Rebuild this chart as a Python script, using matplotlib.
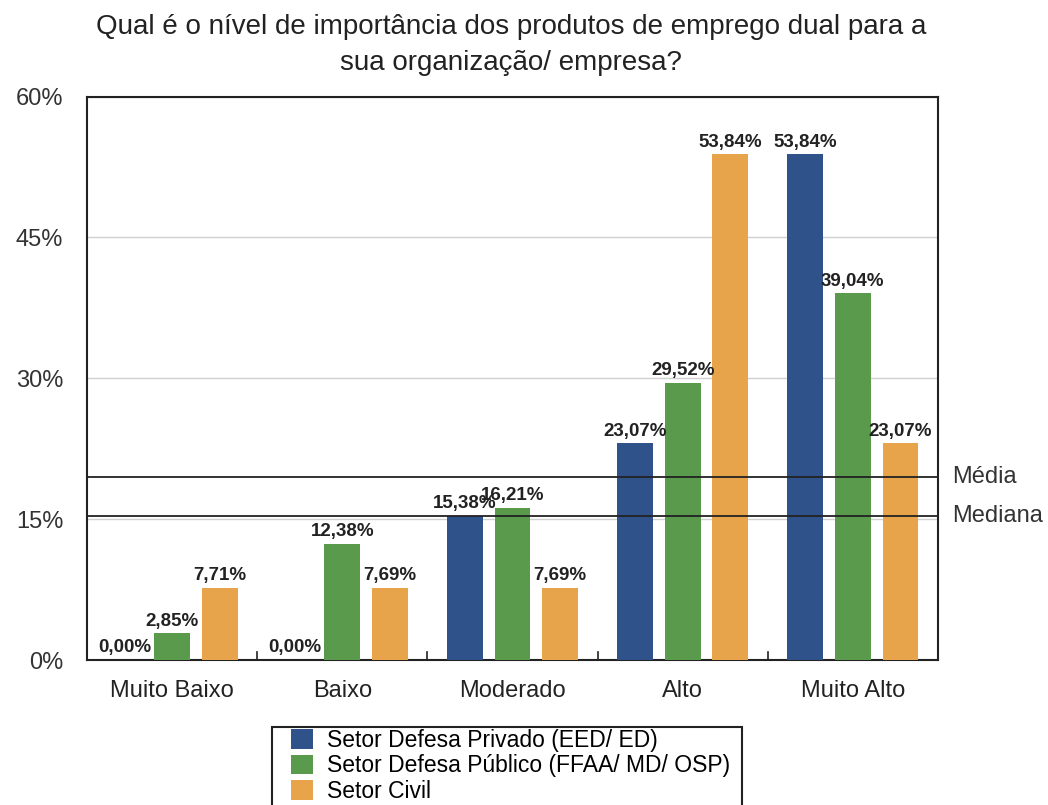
import numpy as np
import matplotlib.pyplot as plt
from matplotlib.patches import Rectangle

plt.rcParams['font.family'] = ['Liberation Sans', 'DejaVu Sans']

niveis = ["Muito Baixo", "Baixo", "Moderado", "Alto", "Muito Alto"]
privado = [0.00, 0.00, 15.38, 23.07, 53.84]
publico = [2.85, 12.38, 16.21, 29.52, 39.04]
civil = [7.71, 7.69, 7.69, 53.84, 23.07]
series_nomes = ["Setor Defesa Privado (EED/ ED)",
                "Setor Defesa Público (FFAA/ MD/ OSP)",
                "Setor Civil"]
cores = ["#30528A", "#5A9A4C", "#E7A44A"]

todos = np.array(privado + publico + civil)
media = todos.mean()
mediana = np.median(todos)

fig = plt.figure(figsize=(10.48, 8.05), dpi=100)
ax = fig.add_axes([0.083, 0.180, 0.812, 0.700])

x = np.arange(len(niveis))
largura = 0.21
passo = 0.28
barras = []
for i, (vals, cor, nome) in enumerate(zip([privado, publico, civil], cores, series_nomes)):
    b = ax.bar(x + (i - 1) * passo, vals, largura, color=cor, label=nome, zorder=3)
    barras.append(b)
    for xi, v in zip(x + (i - 1) * passo, vals):
        ax.text(xi, v + 0.4, f"{v:.2f}%".replace(".", ","), ha="center", va="bottom",
                fontsize=13.5, fontweight="bold", color="#222222", zorder=5)

ax.set_xlim(-0.5, len(niveis) - 0.5)
ax.set_ylim(0, 60)
ax.set_yticks([0, 15, 30, 45, 60])
ax.set_yticklabels(["0%", "15%", "30%", "45%", "60%"], fontsize=17, color="#333333")
ax.tick_params(axis="y", length=0, pad=17)
ax.yaxis.grid(True, color="#D0D0D0", linewidth=1, zorder=0)

ax.set_xticks(x)
ax.set_xticklabels(niveis, fontsize=17, color="#222222")
ax.tick_params(axis="x", length=0, pad=14)
# small marks between categories
for xb in np.arange(0.5, len(niveis) - 0.5, 1):
    ax.plot([xb, xb], [0, 0.9], color="#222222", linewidth=1.2, zorder=4)

for s in ax.spines.values():
    s.set_linewidth(1.5)
    s.set_color("#222222")

ax.axhline(media, color="#222222", linewidth=1.3, zorder=4)
ax.axhline(mediana, color="#222222", linewidth=1.3, zorder=4)
ax.text(1.017, media, "Média", transform=ax.get_yaxis_transform(), va="center",
        fontsize=17, color="#333333")
ax.text(1.017, mediana, "Mediana", transform=ax.get_yaxis_transform(), va="center",
        fontsize=17, color="#333333")

fig.suptitle("Qual é o nível de importância dos produtos de emprego dual para a\nsua organização/ empresa?",
             x=0.488, y=0.983, fontsize=20, color="#222222", linespacing=1.5)

# legend without its own frame; box drawn separately so it runs off the bottom
leg = fig.legend(handles=barras, loc="upper left", bbox_to_anchor=(0.2777, 0.0944),
                 fontsize=16.5, frameon=False, handlelength=0.95, handleheight=0.95,
                 borderpad=0, borderaxespad=0, labelspacing=0.1, handletextpad=0.6)
caixa = Rectangle((272 / 1048, -0.02), (742 - 272) / 1048, 0.02 + 1 - 727 / 805,
                  transform=fig.transFigure, fill=False, edgecolor="#222222", linewidth=1.5)
fig.patches.append(caixa)

fig.savefig("out.png", dpi=100)
